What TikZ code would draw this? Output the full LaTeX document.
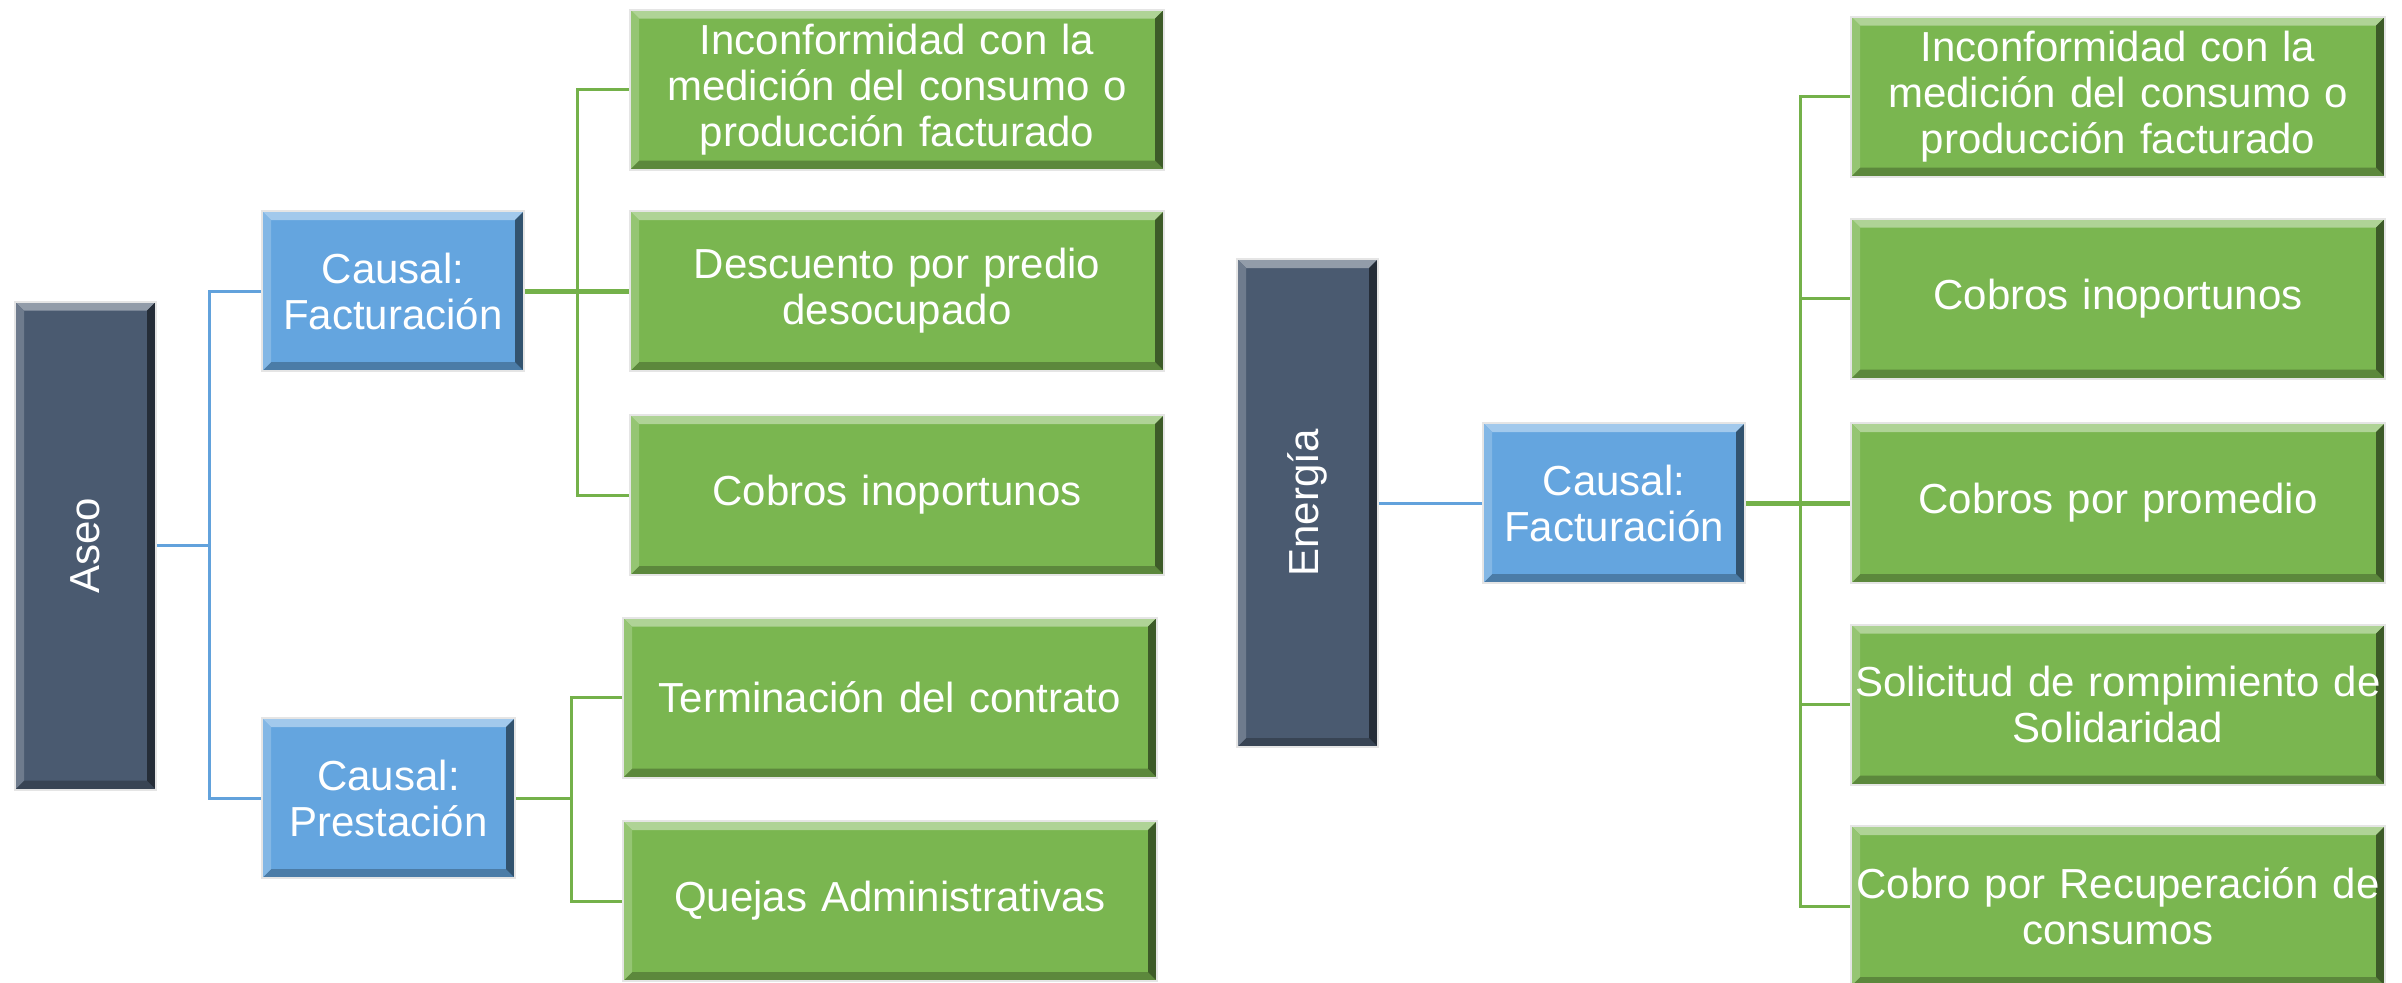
\documentclass[tikz,border=0pt]{standalone}
\usepackage{fontspec}
\setmainfont{Liberation Sans}
\usepackage{tikz}
\usetikzlibrary{calc}

\definecolor{pizarra}{HTML}{4A5A70}
\definecolor{celeste}{HTML}{64A5DF}
\definecolor{verde}{HTML}{7AB650}
\definecolor{lineaazul}{HTML}{62A2DC}
\definecolor{lineaverde}{HTML}{74B14A}

\tikzset{
  bisel/.style={fill=#1, draw=gray!20, line width=1pt,
    path picture={
      \coordinate (NO) at (path picture bounding box.north west);
      \coordinate (NE) at (path picture bounding box.north east);
      \coordinate (SO) at (path picture bounding box.south west);
      \coordinate (SE) at (path picture bounding box.south east);
      \fill[#1!60!white] (NO) -- (NE) -- ([shift={(-4.5pt,-4.5pt)}]NE) -- ([shift={(4.5pt,-4.5pt)}]NO) -- cycle;
      \fill[#1!75!black] (SO) -- (SE) -- ([shift={(-4.5pt,4.5pt)}]SE) -- ([shift={(4.5pt,4.5pt)}]SO) -- cycle;
      \fill[#1!50!black] (SE) -- (NE) -- ([shift={(-4.5pt,-4.5pt)}]NE) -- ([shift={(-4.5pt,4.5pt)}]SE) -- cycle;
      \fill[#1!80!white] (SO) -- (NO) -- ([shift={(4.5pt,-4.5pt)}]NO) -- ([shift={(4.5pt,4.5pt)}]SO) -- cycle;
    }},
  tema/.style={bisel=pizarra, text=white, inner sep=0pt,
    minimum width=70.5pt, minimum height=244pt},
  causal/.style={bisel=celeste, text=white, align=center, inner sep=0pt,
    minimum width=131pt, minimum height=80pt},
  motivo/.style={bisel=verde, text=white, align=center, text width=266pt,
    inner xsep=0.5pt, inner ysep=0pt, minimum height=80pt},
  ramaazul/.style={draw=lineaazul, line width=1.5pt},
  ramaverde/.style={draw=lineaverde, line width=1.5pt},
  every node/.style={font=\fontsize{21}{23}\selectfont}
}

\begin{document}
\begin{tikzpicture}[x=0.5pt, y=-0.5pt]
\useasboundingbox (0,0) rectangle (2402,982);

% Aseo
\node[tema] (aseo) at (85.5,545.5) {\rotatebox{90}{Aseo}};
\node[causal] (fact1) at (393,291) {Causal:\\Facturación};
\node[causal, minimum width=126.5pt] (prest) at (388.5,798) {Causal:\\Prestación};
\node[motivo] (a1) at (897,89.5) {Inconformidad con la\\medición del consumo o\\producción facturado};
\node[motivo] (a2) at (897,291) {Descuento por predio\\desocupado};
\node[motivo] (a3) at (897,495) {Cobros inoportunos};
\node[motivo] (a4) at (890,697.5) {Terminación del contrato};
\node[motivo] (a5) at (890,901) {Quejas Administrativas};

\draw[ramaazul] (aseo.east) -- ++(52,0) |- (fact1.west);
\draw[ramaazul] (aseo.east) -- ++(52,0) |- (prest.west);
\draw[ramaverde] (fact1.east) -- ++(52,0) |- (a1.west);
\draw[ramaverde] (fact1.east) -- ++(52,0) |- (a3.west);
\draw[ramaverde, line width=2.5pt] (fact1.east) -- (a2.west);
\draw[ramaverde] (prest.east) -- ++(55,0) |- (a4.west);
\draw[ramaverde] (prest.east) -- ++(55,0) |- (a5.west);

% Energía
\node[tema] (energia) at (1307.5,503) {\rotatebox{90}{Energía}};
\node[causal] (fact2) at (1614,503) {Causal:\\Facturación};
\node[motivo] (b1) at (2118,96.5) {Inconformidad con la\\medición del consumo o\\producción facturado};
\node[motivo] (b2) at (2118,298.5) {Cobros inoportunos};
\node[motivo] (b3) at (2118,503) {Cobros por promedio};
\node[motivo] (b4) at (2118,704.5) {Solicitud de rompimiento de\\Solidaridad};
\node[motivo] (b5) at (2118,906) {Cobro por Recuperación de\\consumos};

\draw[ramaazul] (energia.east) -- (fact2.west);
\draw[ramaverde, line width=2.5pt] (fact2.east) -- (b3.west);
\foreach \hoja in {b1,b2,b4,b5}
  \draw[ramaverde] (fact2.east) -- ++(54,0) |- (\hoja.west);
\end{tikzpicture}
\end{document}
